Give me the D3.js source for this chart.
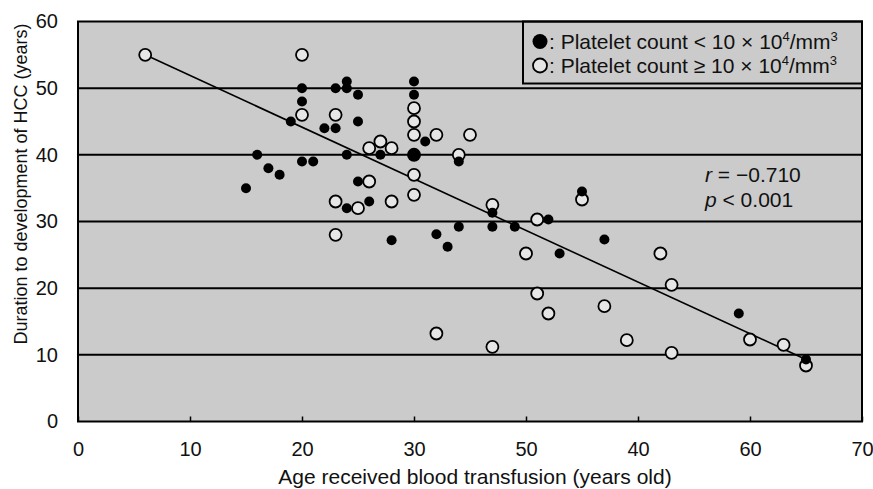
<!DOCTYPE html>
<html>
<head>
<meta charset="utf-8">
<script src="https://cdn.jsdelivr.net/npm/d3@7"></script>
<style>
	body { margin: 0; background: #fff; }
	svg text { font-family: 'Liberation Sans', Arial, sans-serif; fill: #111; }
</style>
</head>
<body>
<div id="chart"></div>
<script>
// [age received blood transfusion, years to development of HCC]
var lowPlatelet = [
	[20, 50], [20, 48], [19, 45], [23, 50], [24, 51], [24, 50], [25, 49],
	[22, 44], [23, 44], [25, 45], [16, 40], [24, 40], [20, 39], [21, 39],
	[17, 38], [18, 37], [15, 35], [25, 36], [24, 32], [26, 33], [30, 51],
	[30, 49], [31, 42], [27, 40], [34, 39], [37, 31.3], [37, 29.2], [39, 29.2],
	[34, 29.2], [28, 27.2], [32, 28.1], [33, 26.2], [42, 30.3], [45, 34.5],
	[47, 27.3], [43, 25.2], [59, 16.2], [65, 9.3]
];
var highPlatelet = [
	[6, 55], [20, 55], [20, 46], [23, 46], [30, 47], [30, 45], [30, 43],
	[32, 43], [35, 43], [27, 42], [26, 41], [28, 41], [34, 40], [30, 37],
	[26, 36], [23, 33], [25, 32], [28, 33], [30, 34], [37, 32.5], [23, 28],
	[41, 30.3], [45, 33.3], [40, 25.2], [52, 25.2], [53, 20.5], [41, 19.2],
	[47, 17.3], [42, 16.2], [32, 13.2], [37, 11.2], [49, 12.2], [53, 10.3],
	[60, 12.3], [63, 11.5], [65, 8.4]
];
// two low-platelet cases on the same spot
var overlapPoints = [[30, 40]];
var regressionEnds = [[6, 55], [65, 9.3]];

var xTicks      = [0, 10, 20, 30, 40, 50, 60, 70];
var xTickLabels = ['0', '10', '20', '30', '50', '40', '60', '70']; // as printed
var yTicks      = [0, 10, 20, 30, 40, 50, 60];
var gridValues  = [10, 20, 30, 40, 50];
var legendSigns = ['<', '\u2265'];
var statLines   = [['r', ' = \u22120.710'], ['p', ' < 0.001']];

function HccScatter(config) {
	this.initConfig(config);
}

HccScatter.prototype.initConfig = function(config) {
	this.width  = 873;
	this.height = 489;
	this.margin = {top: 21.5, right: 11, bottom: 67.5, left: 78};
	this.bgColor   = '#cbcbcb';
	this.openColor = '#e6e6e6';
	this.parentNode = d3.select('#' + config.parentId);

	this.viewWidth  = this.width  - this.margin.left - this.margin.right;
	this.viewHeight = this.height - this.margin.top  - this.margin.bottom;

	this.initVisuals();
}

HccScatter.prototype.initVisuals = function() {
	var me = this;
	me.svg = me.parentNode.append('svg')
		.attr('width', me.width)
		.attr('height', me.height);

	me.vis = me.svg.append('g')
		.attr('transform', 'translate(' + me.margin.left + ',' + me.margin.top + ')');

	me.xScale = d3.scaleLinear().domain([0, 70]).range([0, me.viewWidth]);
	me.yScale = d3.scaleLinear().domain([0, 60]).range([me.viewHeight, 0]);

	me.draw();
}

HccScatter.prototype.draw = function() {
	var me = this;
	me.vis.append('rect')
		.attr('width', me.viewWidth)
		.attr('height', me.viewHeight)
		.attr('fill', me.bgColor);

	me.drawGrid();
	me.drawAxes();
	me.drawPoints();
	me.drawLegend();
	me.drawStats();

	// frame
	me.vis.append('rect')
		.attr('width', me.viewWidth)
		.attr('height', me.viewHeight)
		.attr('fill', 'none')
		.attr('stroke', '#000')
		.attr('stroke-width', 2);
}

HccScatter.prototype.drawGrid = function() {
	var me = this;
	me.vis.append('g').selectAll('line')
		.data(gridValues)
		.enter().append('line')
		.attr('x1', 0)
		.attr('x2', me.viewWidth)
		.attr('y1', function(d) { return me.yScale(d); })
		.attr('y2', function(d) { return me.yScale(d); })
		.attr('stroke', '#000')
		.attr('stroke-width', 2);
}

HccScatter.prototype.drawAxes = function() {
	var me = this;

	var xAxis = d3.axisBottom(me.xScale)
		.tickValues(xTicks)
		.tickSize(-5)
		.tickPadding(20)
		.tickFormat(function(d) { return xTickLabels[xTicks.indexOf(d)]; });
	var gx = me.vis.append('g')
		.attr('transform', 'translate(0,' + me.viewHeight + ')')
		.call(xAxis);
	gx.select('.domain').remove();
	gx.selectAll('.tick line').attr('stroke', '#000').attr('stroke-width', 1.5);
	gx.selectAll('text').attr('font-size', 20).attr('fill', '#111');

	var yAxis = d3.axisLeft(me.yScale)
		.tickValues(yTicks)
		.tickSize(0)
		.tickPadding(20);
	var gy = me.vis.append('g').call(yAxis);
	gy.select('.domain').remove();
	gy.selectAll('text').attr('font-size', 20).attr('fill', '#111');

	me.svg.append('text')
		.attr('x', 475)
		.attr('y', 484)
		.attr('text-anchor', 'middle')
		.attr('font-size', 21)
		.text('Age received blood transfusion (years old)');

	me.svg.append('text')
		.attr('transform', 'translate(27,184) rotate(-90)')
		.attr('text-anchor', 'middle')
		.attr('font-size', 18)
		.text('Duration to development of HCC (years)');
}

HccScatter.prototype.drawPoints = function() {
	var me = this;
	var line = d3.line()
		.x(function(d) { return me.xScale(d[0]); })
		.y(function(d) { return me.yScale(d[1]); });

	me.vis.append('path')
		.attr('d', line(regressionEnds))
		.attr('fill', 'none')
		.attr('stroke', '#000')
		.attr('stroke-width', 1.6);

	me.vis.append('g').selectAll('circle')
		.data(highPlatelet)
		.enter().append('circle')
		.attr('cx', function(d) { return me.xScale(d[0]); })
		.attr('cy', function(d) { return me.yScale(d[1]); })
		.attr('r', 6)
		.attr('fill', me.openColor)
		.attr('stroke', '#000')
		.attr('stroke-width', 1.8);

	me.vis.append('g').selectAll('circle')
		.data(lowPlatelet)
		.enter().append('circle')
		.attr('cx', function(d) { return me.xScale(d[0]); })
		.attr('cy', function(d) { return me.yScale(d[1]); })
		.attr('r', 5)
		.attr('fill', '#000');

	me.vis.append('g').selectAll('circle')
		.data(overlapPoints)
		.enter().append('circle')
		.attr('cx', function(d) { return me.xScale(d[0]); })
		.attr('cy', function(d) { return me.yScale(d[1]); })
		.attr('r', 7)
		.attr('fill', '#000');
}

HccScatter.prototype.drawLegend = function() {
	var me = this;
	var lg = me.vis.append('g')
		.attr('transform', 'translate(' + (me.viewWidth - 339) + ',0)');

	lg.append('rect')
		.attr('width', 339)
		.attr('height', 62)
		.attr('fill', me.bgColor)
		.attr('stroke', '#000')
		.attr('stroke-width', 2);

	var item = lg.selectAll('g.item')
		.data(legendSigns)
		.enter().append('g')
		.attr('class', 'item')
		.attr('transform', function(d, i) { return 'translate(0,' + (20 + i * 24) + ')'; });

	item.append('circle')
		.attr('cx', 17)
		.attr('cy', 0)
		.attr('r', function(d, i) { return i === 0 ? 7.5 : 7; })
		.attr('fill', function(d, i) { return i === 0 ? '#000' : me.openColor; })
		.attr('stroke', '#000')
		.attr('stroke-width', function(d, i) { return i === 0 ? 0 : 1.8; });

	var t = item.append('text')
		.attr('x', 26)
		.attr('y', 7)
		.attr('font-size', 21);
	t.append('tspan').text(function(d) { return ': Platelet count ' + d + ' 10 \u00d7 10'; });
	t.append('tspan').attr('dy', -8).attr('font-size', 13).text('4');
	t.append('tspan').attr('dy', 8).text('/mm');
	t.append('tspan').attr('dy', -8).attr('font-size', 13).text('3');
}

HccScatter.prototype.drawStats = function() {
	var me = this;
	var t = me.vis.append('g').selectAll('text')
		.data(statLines)
		.enter().append('text')
		.attr('x', 627)
		.attr('y', function(d, i) { return 160 + i * 25; })
		.attr('font-size', 21);
	t.append('tspan').attr('font-style', 'italic').text(function(d) { return d[0]; });
	t.append('tspan').text(function(d) { return d[1]; });
}

new HccScatter({parentId: 'chart'});
</script>
</body>
</html>
